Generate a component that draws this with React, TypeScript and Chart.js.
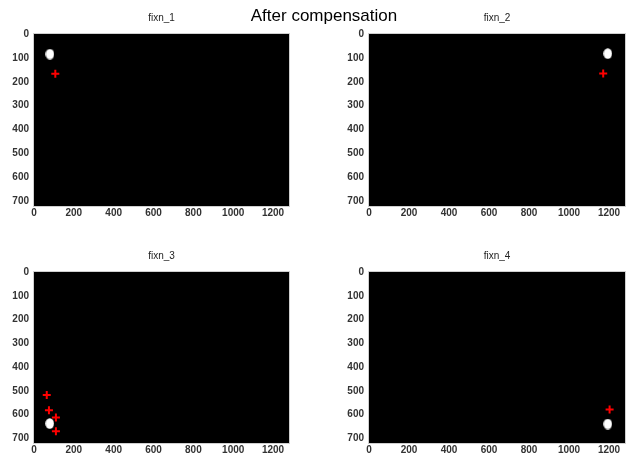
import React, { useEffect, useRef } from 'react';
import { Chart, registerables } from 'chart.js';
Chart.register(...registerables);

// ---- data ----
const mainTitle = 'After compensation';
const panelTitles = ['fixn_1', 'fixn_2', 'fixn_3', 'fixn_4'];
const xTicks = [0, 200, 400, 600, 800, 1000, 1200];
const yTicks = [0, 100, 200, 300, 400, 500, 600, 700];
const xMax = 1280;
const yMax = 720;

const fixn1DotX = [80];
const fixn1DotY = [84];
const fixn1CrossX = [107];
const fixn1CrossY = [166];

const fixn2DotX = [1194];
const fixn2DotY = [82];
const fixn2CrossX = [1171];
const fixn2CrossY = [165];

const fixn3DotX = [79];
const fixn3DotY = [638];
const fixn3CrossX = [64, 75, 110, 110];
const fixn3CrossY = [518, 582, 613, 671];

const fixn4DotX = [1194];
const fixn4DotY = [640];
const fixn4CrossX = [1203];
const fixn4CrossY = [579];

const panelData = [
  { dotX: fixn1DotX, dotY: fixn1DotY, crossX: fixn1CrossX, crossY: fixn1CrossY },
  { dotX: fixn2DotX, dotY: fixn2DotY, crossX: fixn2CrossX, crossY: fixn2CrossY },
  { dotX: fixn3DotX, dotY: fixn3DotY, crossX: fixn3CrossX, crossY: fixn3CrossY },
  { dotX: fixn4DotX, dotY: fixn4DotY, crossX: fixn4CrossX, crossY: fixn4CrossY },
];

// ---- layout (canvas position + chart area inside canvas) ----
const panelLayout = [
  { left: 0, top: 0, width: 316, height: 228, area: { l: 34, t: 34, r: 289, b: 206 } },
  { left: 316, top: 0, width: 316, height: 228, area: { l: 53, t: 34, r: 309, b: 206 } },
  { left: 0, top: 238, width: 316, height: 217, area: { l: 34, t: 34, r: 289, b: 205 } },
  { left: 316, top: 238, width: 316, height: 217, area: { l: 53, t: 34, r: 309, b: 205 } },
];

const FONT = '"Liberation Sans", Arial, Helvetica, sans-serif';

function makeDotImage(): HTMLCanvasElement {
  const c = document.createElement('canvas');
  c.width = 9;
  c.height = 11;
  const ctx = c.getContext('2d')!;
  ctx.fillStyle = '#ffffff';
  ctx.beginPath();
  ctx.ellipse(4.5, 5.5, 4.3, 5.2, 0, 0, Math.PI * 2);
  ctx.fill();
  return c;
}

function Panel({ idx }: { idx: number }) {
  const ref = useRef<HTMLCanvasElement | null>(null);
  const lay = panelLayout[idx];
  useEffect(() => {
    const canvas = ref.current!;
    const d = panelData[idx];
    const dot = makeDotImage();
    const bgPlugin = {
      id: 'bgPlugin' + idx,
      beforeDatasetsDraw(chart: any) {
        const { ctx, chartArea: a } = chart;
        ctx.save();
        ctx.fillStyle = '#000000';
        ctx.fillRect(a.left, a.top, a.right - a.left, a.bottom - a.top);
        ctx.restore();
      },
      afterDraw(chart: any) {
        const { ctx, chartArea: a } = chart;
        ctx.save();
        ctx.strokeStyle = '#cfcfcf';
        ctx.lineWidth = 1;
        ctx.strokeRect(a.left - 0.5, a.top - 0.5, a.right - a.left + 1, a.bottom - a.top + 1);
        ctx.fillStyle = '#222222';
        ctx.font = '10px ' + FONT;
        ctx.textAlign = 'center';
        ctx.textBaseline = 'middle';
        ctx.fillText(panelTitles[idx], (a.left + a.right) / 2, a.top - 16);
        ctx.restore();
      },
    };
    const tickFont = { family: FONT, size: 10, weight: 'bold' as const };
    const chart = new Chart(canvas, {
      type: 'scatter',
      data: {
        datasets: [
          {
            data: d.dotX.map((x, i) => ({ x, y: d.dotY[i] })),
            pointStyle: dot as any,
            pointRadius: 5,
            backgroundColor: '#ffffff',
            borderColor: '#ffffff',
          },
          {
            data: d.crossX.map((x, i) => ({ x, y: d.crossY[i] })),
            pointStyle: 'cross',
            pointRadius: 4,
            borderWidth: 2,
            borderColor: '#ff0000',
            backgroundColor: '#ff0000',
          },
        ],
      },
      options: {
        animation: false,
        responsive: false,
        maintainAspectRatio: false,
        events: [],
        layout: { padding: { top: lay.area.t, right: lay.width - lay.area.r, left: 0, bottom: 0 } },
        plugins: { legend: { display: false }, tooltip: { enabled: false }, title: { display: false } },
        scales: {
          x: {
            type: 'linear',
            min: 0,
            max: xMax,
            grid: { display: false, drawTicks: false },
            border: { display: false },
            afterBuildTicks: (s: any) => {
              s.ticks = xTicks.map((v) => ({ value: v }));
            },
            afterFit: (s: any) => {
              s.height = lay.height - lay.area.b;
            },
            ticks: {
              padding: 1,
              maxRotation: 0,
              autoSkip: false,
              color: '#333333',
              font: tickFont,
              callback: (v: any) => String(v),
            },
          },
          y: {
            type: 'linear',
            reverse: true,
            min: 0,
            max: yMax,
            grid: { display: false, drawTicks: false },
            border: { display: false },
            afterBuildTicks: (s: any) => {
              s.ticks = yTicks.map((v) => ({ value: v }));
            },
            afterFit: (s: any) => {
              s.width = lay.area.l;
            },
            ticks: {
              padding: 5,
              autoSkip: false,
              color: '#333333',
              font: tickFont,
              callback: (v: any) => String(v),
            },
          },
        },
      },
      plugins: [bgPlugin],
    });
    return () => chart.destroy();
  }, [idx]);
  return (
    <canvas
      ref={ref}
      width={lay.width}
      height={lay.height}
      style={{ position: 'absolute', left: lay.left, top: lay.top, width: lay.width, height: lay.height }}
    />
  );
}

export default function App() {
  return (
    <div style={{ position: 'fixed', left: 0, top: 0, width: 632, height: 455, background: '#ffffff', overflow: 'hidden' }}>
      {panelLayout.map((_, i) => (
        <Panel key={i} idx={i} />
      ))}
      <div
        style={{
          position: 'absolute',
          left: 324,
          top: 6,
          transform: 'translateX(-50%)',
          whiteSpace: 'nowrap',
          fontFamily: FONT,
          fontSize: 17,
          lineHeight: '20px',
          color: '#000000',
        }}
      >
        {mainTitle}
      </div>
    </div>
  );
}
